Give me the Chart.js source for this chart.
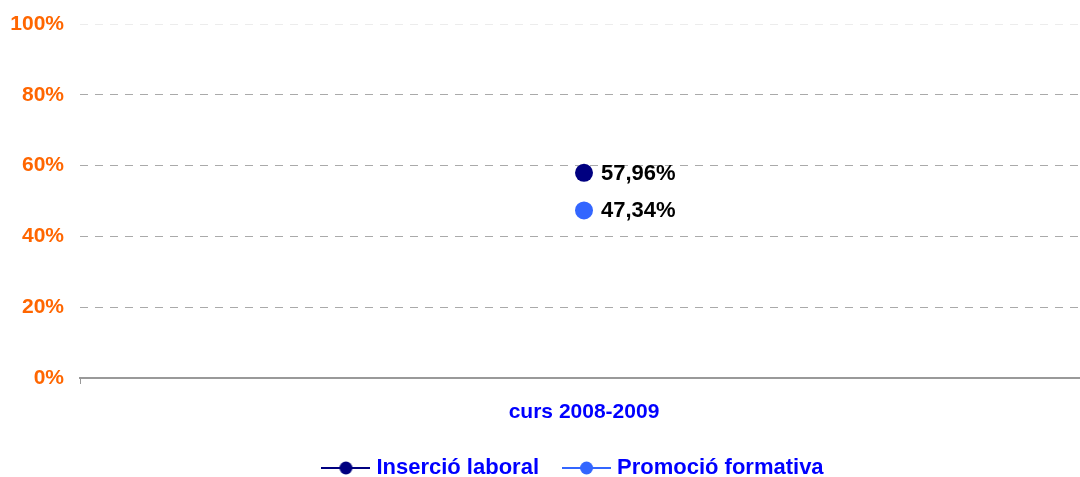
<!DOCTYPE html>
<html>
<head>
<meta charset="utf-8">
<title>Inserció laboral / Promoció formativa</title>
<script src="https://cdn.jsdelivr.net/npm/chart.js@4/dist/chart.umd.min.js"></script>
<style>
    html, body { margin: 0; padding: 0; background: #fff; }
    #wrap { width: 1080px; height: 477px; position: relative; }
</style>
</head>
<body>
<div id="wrap"><canvas id="chart"></canvas></div>
<script>
// Dades del gràfic
const categories = ['curs 2008-2009'];
const insercioLaboral = [57.96];
const promocioFormativa = [47.34];
const seriesNames = ['Inserció laboral', 'Promoció formativa'];
const seriesColors = ['#000080', '#3366ff'];
const yTickValues = [0, 20, 40, 60, 80, 100];

const FONT = "'Liberation Sans', Arial, sans-serif";

// Icona de llegenda: línia amb punt al mig
function legendIcon(color) {
    const c = document.createElement('canvas');
    c.width = 49;
    c.height = 20;
    const g = c.getContext('2d');
    g.strokeStyle = color;
    g.lineWidth = 2;
    g.beginPath();
    g.moveTo(0, 10);
    g.lineTo(49, 10);
    g.stroke();
    g.fillStyle = color;
    g.beginPath();
    g.arc(24.5, 10, 6.5, 0, Math.PI * 2);
    g.fill();
    return c;
}

// Etiquetes de valor a la dreta de cada punt
const valueLabels = {
    id: 'valueLabels',
    afterDatasetsDraw(chart) {
        const ctx = chart.ctx;
        ctx.save();
        ctx.font = 'bold 22px ' + FONT;
        ctx.fillStyle = '#000';
        ctx.textAlign = 'left';
        ctx.textBaseline = 'middle';
        chart.data.datasets.forEach((ds, i) => {
            const meta = chart.getDatasetMeta(i);
            meta.data.forEach((pt, j) => {
                const txt = ds.data[j].toFixed(2).replace('.', ',') + '%';
                ctx.fillText(txt, pt.x + 17, pt.y + 1);
            });
        });
        ctx.restore();
    }
};

// A l'original l'eix X continua una mica més enllà de la vora dreta
// i la llegenda queda centrada una mica a la dreta
const layoutTweak = {
    id: 'layoutTweak',
    afterLayout(chart) {
        const x = chart.scales.x;
        if (x) {
            x.right = 1088;
            x.width = x.right - x.left;
            x.configure();
        }
        if (chart.legend) {
            chart.legend.left = 62;
            chart.legend.right = 1088;
        }
    }
};

const ctx = document.getElementById('chart').getContext('2d');
new Chart(ctx, {
    type: 'line',
    data: {
        labels: categories,
        datasets: [{
            label: seriesNames[0],
            data: insercioLaboral,
            borderColor: seriesColors[0],
            backgroundColor: seriesColors[0],
            showLine: false,
            pointRadius: 9,
            pointHoverRadius: 9,
            pointBorderWidth: 0
        }, {
            label: seriesNames[1],
            data: promocioFormativa,
            borderColor: seriesColors[1],
            backgroundColor: seriesColors[1],
            showLine: false,
            pointRadius: 9,
            pointHoverRadius: 9,
            pointBorderWidth: 0
        }]
    },
    options: {
        responsive: true,
        maintainAspectRatio: false,
        animation: false,
        layout: {
            autoPadding: false,
            padding: { top: 24, left: 0, right: 0, bottom: 0 }
        },
        plugins: {
            tooltip: { enabled: false },
            legend: {
                position: 'bottom',
                maxHeight: 48,
                labels: {
                    usePointStyle: true,
                    pointStyleWidth: 39,
                    padding: 28,
                    color: '#0000ff',
                    font: { family: FONT, size: 22, weight: 'bold' },
                    generateLabels(chart) {
                        const items = Chart.defaults.plugins.legend.labels.generateLabels(chart);
                        items.forEach((it, i) => {
                            it.pointStyle = legendIcon(seriesColors[i]);
                        });
                        return items;
                    }
                }
            }
        },
        scales: {
            x: {
                offset: true,
                afterFit(scale) {
                    scale.height = 51;
                    scale.paddingLeft = 0;
                    scale.paddingRight = 0;
                },
                border: { display: true, color: '#999999', width: 2 },
                grid: {
                    offset: true,
                    drawOnChartArea: false,
                    drawTicks: true,
                    tickLength: 6,
                    color: '#999999'
                },
                ticks: {
                    padding: 16,
                    color: '#0000ff',
                    font: { family: FONT, size: 21, weight: 'bold' }
                }
            },
            y: {
                min: 0,
                max: 100,
                afterFit(scale) {
                    scale.width = 80;
                    scale.paddingTop = 0;
                    scale.paddingBottom = 0;
                },
                afterBuildTicks(scale) {
                    scale.ticks = yTickValues.map(v => ({ value: v }));
                },
                border: { display: false, dash: [8, 7] },
                grid: {
                    drawTicks: false,
                    color(c) {
                        const v = c.tick ? c.tick.value : null;
                        if (v === 0) return 'rgba(0,0,0,0)';
                        if (v === 100) return '#ececec';
                        return '#aaaaaa';
                    }
                },
                ticks: {
                    padding: 16,
                    color: '#ff6600',
                    font: { family: FONT, size: 21, weight: 'bold' },
                    callback: v => v + '%'
                }
            }
        }
    },
    plugins: [valueLabels, layoutTweak]
});
</script>
</body>
</html>
